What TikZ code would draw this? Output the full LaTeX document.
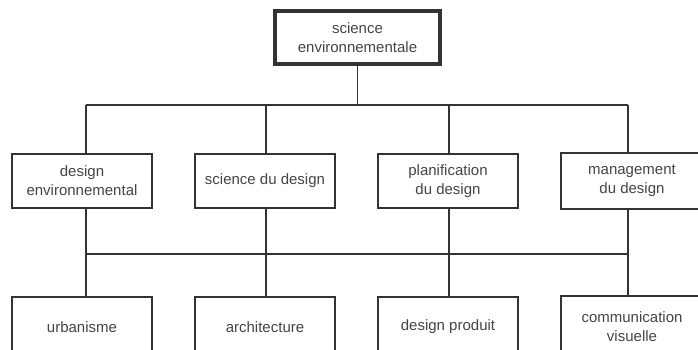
\documentclass[tikz,border=0pt]{standalone}
\usepackage{fontspec}
\setmainfont{Liberation Sans}
\usetikzlibrary{calc}
\definecolor{linegray}{HTML}{333333}
\definecolor{textgray}{HTML}{444444}
\begin{document}
\begin{tikzpicture}[x=1pt,y=-1pt,
  every node/.style={font=\fontsize{15}{19}\selectfont, text=textgray, align=center, inner sep=0pt},
  rootbox/.style={draw=linegray, line width=3.6pt, minimum width=165pt, minimum height=53pt},
  midbox/.style={draw=linegray, line width=2.4pt, minimum width=140pt, minimum height=54pt},
  leafbox/.style={draw=linegray, line width=1.8pt, minimum width=140pt, minimum height=60pt},
  % the last column runs past the right edge of the page
  cutmid/.style={midbox, draw=none},
  cutleaf/.style={leafbox, draw=none},
  link/.style={draw=linegray, line width=1.8pt}]
\useasboundingbox (0,0) rectangle (698,350);
\clip (0,0) rectangle (698,350);

% root
\node[rootbox] (root) at (357.5,37.5) {science\\environnementale};

% x positions of the vertical connectors and y positions of the buses
\coordinate (c1) at (86,0);
\coordinate (c2) at (266,0);
\coordinate (c3) at (449,0);
\coordinate (c4) at (628,0);
\coordinate (busA) at (0,105);
\coordinate (busB) at (0,254);

% second level
\node[midbox] (m1) at (82,181) {design\\environnemental};
\node[midbox] (m2) at (265,181) {science du design};
\node[midbox] (m3) at (448,181) {planification\\du design};
\node[cutmid] (m4) at (632,181) {management\\du design};
\draw[draw=linegray, line width=2.4pt] (m4.north west) rectangle ($(m4.south east)+(20,0)$);

% third level
\node[leafbox] (l1) at (82,327) {urbanisme};
\node[leafbox] (l2) at (265,327) {architecture};
\node[leafbox] (l3) at (448,327) {design produit};
\node[cutleaf] (l4) at (632,327) {communication\\visuelle};
\draw[draw=linegray, line width=1.8pt] (l4.north west) rectangle ($(l4.south east)+(20,0)$);

% root to first bus
\draw[link] (root.south -| root) -- (root |- busA);
\draw[link] (c1 |- busA) -- (c4 |- busA);
\foreach \i in {1,2,3,4} {
  \draw[link] (c\i |- busA) -- (c\i |- m\i.north);
}
% second level to second bus, and on to the third level
\foreach \i in {1,2,3,4} {
  \draw[link] (c\i |- m\i.south) -- (c\i |- busB);
  \draw[link] (c\i |- busB) -- (c\i |- l\i.north);
}
\draw[link] (c1 |- busB) -- (c4 |- busB);
\end{tikzpicture}
\end{document}
